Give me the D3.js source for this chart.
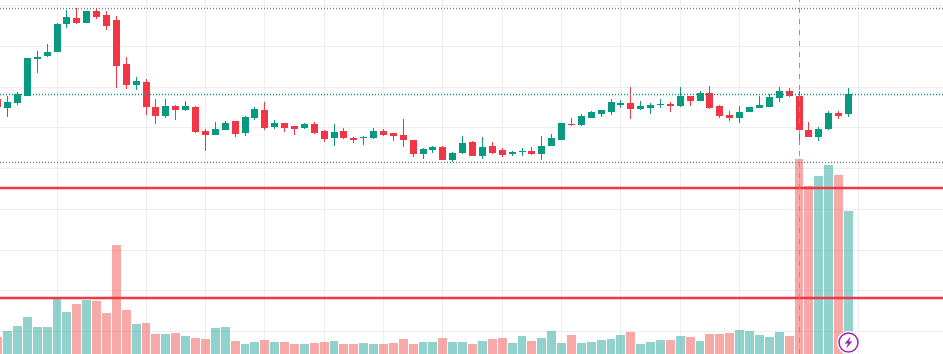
<!DOCTYPE html>
<html>
<head>
<meta charset="utf-8">
<script src="https://cdn.jsdelivr.net/npm/d3@7"></script>
<style>
  html, body { margin: 0; padding: 0; background: #fff; overflow: hidden; }
  svg { display: block; }
  .grid line { stroke: #eceef1; stroke-width: 1; shape-rendering: crispEdges; }
  .grid path { display: none; }
</style>
</head>
<body>
<div id="chart"></div>
<script>
// candle index -1 is the one cut off by the left edge
var firstIndex = -1;
var opens = [71,62,67,74,111,114,118,146,152,147,159,155,150,106,85,88,63,54,64,60,63,39,35,40,49,37,52,60,43,47,44,42,46,39,32,39,32,32,32,39,37,35,30,16,20,23,10,17,28,14,24,20,16,18,19,16,24,30,46,45,52,56,58,65,67,61,62,65,66,64,74,69,77,64,55,52,58,62,63,72,79,74,40,33,41,57,56];
var highs = [73,74,78,112,119,126,147,160,162,159,161,159,154,113,93,91,71,71,65,69,64,41,48,49,49,54,63,68,50,47,44,47,48,40,46,42,33,34,42,41,37,51,30,22,24,24,18,34,29,33,28,22,19,22,23,34,36,47,52,56,59,60,71,70,83,69,67,71,68,83,74,79,84,65,59,64,63,74,76,83,82,79,48,43,59,59,82];
var lows = [62,53,65,74,97,113,118,142,146,147,151,140,82,81,80,55,46,52,50,59,37,19,35,40,33,34,50,40,41,38,35,41,36,28,24,31,27,25,31,34,29,23,13,11,17,10,8,16,14,11,16,13,14,14,15,10,24,30,44,44,52,53,55,62,51,60,56,62,58,63,64,69,61,52,49,47,58,62,63,68,73,30,33,29,40,51,53];
var closes = [63,68,76,112,113,118,146,153,147,159,153,144,104,85,89,63,54,64,60,64,38,35,41,47,36,53,61,42,47,42,41,46,37,31,38,32,30,33,39,35,34,30,16,21,23,10,17,27,14,23,17,15,18,19,16,24,32,47,45,54,58,60,68,67,61,64,65,66,64,74,69,77,62,54,52,58,63,65,73,79,74,40,33,41,57,54,76];
var volumes = [17,23,28,37,27,27,55,42,50,54,53,41,109,44,30,31,20,20,21,18,16,15,26,27,13,10,12,14,12,12,10,10,11,12,13,10,10,11,10,10,11,15,10,12,12,16,12,12,10,13,15,16,11,18,13,16,23,11,19,11,12,14,15,19,22,10,12,14,14,18,17,13,20,20,21,24,23,19,17,22,18,195,168,178,189,179,143];

// reference levels
var highLevel = 162, closeLevel = 76, lowLevel = 8;
var volumeLevels = [166, 56];
var crosshairIndex = 80;

// grid ticks
var timeTicks = [5, 14, 20, 26, 32, 38, 44, 50, 56, 62, 68, 74, 80, 86];
var priceTicks = [165, 124, 83, 43, 2];
var volumeTicks = [145, 104, 64, 23];

var w = 943, h = 354;
var green = '#089981', red = '#f23645', purple = '#9c27b0';
var volGreen = '#26a69a', volRed = '#ef5350';

var svg = d3.select('#chart').append('svg')
    .attr('width', w)
    .attr('height', h);

var xScale = d3.scaleLinear().domain([0, 85]).range([7.58, 848.5]);
var yPrice = d3.scaleLinear().domain([0, 170]).range([170, 0]);
var yVolume = d3.scaleLinear().domain([0, 195]).range([h, 159]);

function px(i) { return Math.floor(xScale(i)); }

var bars = opens.map(function (o, i) {
    return { index: i + firstIndex, open: o, high: highs[i], low: lows[i], close: closes[i], volume: volumes[i] };
});

function isUp(d) { return d.close >= d.open; }

// Grid, drawn by axes with empty labels
svg.append('g').attr('class', 'grid')
    .call(d3.axisBottom().scale(xScale).tickValues(timeTicks).tickSize(h).tickFormat('').offset(0))
    .selectAll('.tick')
    .attr('transform', function (d) { return 'translate(' + (px(d) + 0.5) + ',0)'; });

svg.append('g').attr('class', 'grid')
    .call(d3.axisRight().scale(yPrice).tickValues(priceTicks).tickSize(w).tickFormat('').offset(0))
    .selectAll('.tick')
    .attr('transform', function (d) { return 'translate(0,' + (Math.round(yPrice(d)) + 0.5) + ')'; });

svg.append('g').attr('class', 'grid')
    .call(d3.axisRight().scale(yVolume).tickValues(volumeTicks).tickSize(w).tickFormat('').offset(0))
    .selectAll('.tick')
    .attr('transform', function (d) { return 'translate(0,' + (Math.round(yVolume(d)) + 0.5) + ')'; });

// Volume bars
svg.append('g').selectAll('rect')
    .data(bars).enter().append('rect')
    .attr('x', function (d) { return px(d.index) - 4; })
    .attr('y', function (d) { return yVolume(d.volume); })
    .attr('width', function (d) { return px(d.index + 1) - px(d.index) - 1; })
    .attr('height', function (d) { return h - yVolume(d.volume); })
    .attr('fill', function (d) { return isUp(d) ? volGreen : volRed; })
    .attr('fill-opacity', 0.5)
    .attr('shape-rendering', 'crispEdges');

// Volume level lines
svg.append('g').selectAll('line')
    .data(volumeLevels).enter().append('line')
    .attr('x1', 0).attr('x2', w)
    .attr('y1', function (d) { return yVolume(d); })
    .attr('y2', function (d) { return yVolume(d); })
    .attr('stroke', red)
    .attr('stroke-width', 2.4);

// Candles
var candles = svg.append('g').selectAll('g')
    .data(bars).enter().append('g')
    .attr('fill', function (d) { return isUp(d) ? green : red; })
    .attr('shape-rendering', 'crispEdges');

candles.append('rect')
    .attr('x', function (d) { return px(d.index); })
    .attr('y', function (d) { return yPrice(d.high); })
    .attr('width', 1)
    .attr('height', function (d) { return yPrice(d.low) - yPrice(d.high); });

candles.append('rect')
    .attr('x', function (d) { return px(d.index) - 3; })
    .attr('y', function (d) { return yPrice(Math.max(d.open, d.close)); })
    .attr('width', 7)
    .attr('height', function (d) { return Math.max(1, Math.abs(yPrice(d.open) - yPrice(d.close))); });

// Dotted price lines
var dotted = [
    { value: highLevel, color: '#787b86' },
    { value: closeLevel, color: green },
    { value: lowLevel, color: '#787b86' }
];
svg.append('g').selectAll('line')
    .data(dotted).enter().append('line')
    .attr('x1', 0).attr('x2', w)
    .attr('y1', function (d) { return yPrice(d.value) + 0.5; })
    .attr('y2', function (d) { return yPrice(d.value) + 0.5; })
    .attr('stroke', function (d) { return d.color; })
    .attr('stroke-width', 1.4)
    .attr('stroke-dasharray', '1 2');

// Crosshair
svg.append('line')
    .attr('x1', px(crosshairIndex) + 0.5)
    .attr('x2', px(crosshairIndex) + 0.5)
    .attr('y1', -3).attr('y2', h)
    .attr('stroke', '#9598a1')
    .attr('stroke-width', 1)
    .attr('stroke-dasharray', '5 6')
    .attr('shape-rendering', 'crispEdges');

// Lightning badge under the last bar
var badge = svg.append('g')
    .attr('transform', 'translate(' + (px(85) + 0.5) + ',342.5)');
badge.append('circle').attr('r', 11.5).attr('fill', '#fff');
badge.append('circle').attr('r', 9.5)
    .attr('fill', '#fff')
    .attr('stroke', purple)
    .attr('stroke-width', 1.6);
badge.append('path')
    .attr('d', 'M2.2,-6 L-3.8,1 L-0.6,1 L-2.2,6 L3.8,-1 L0.6,-1 Z')
    .attr('fill', purple);
</script>
</body>
</html>
